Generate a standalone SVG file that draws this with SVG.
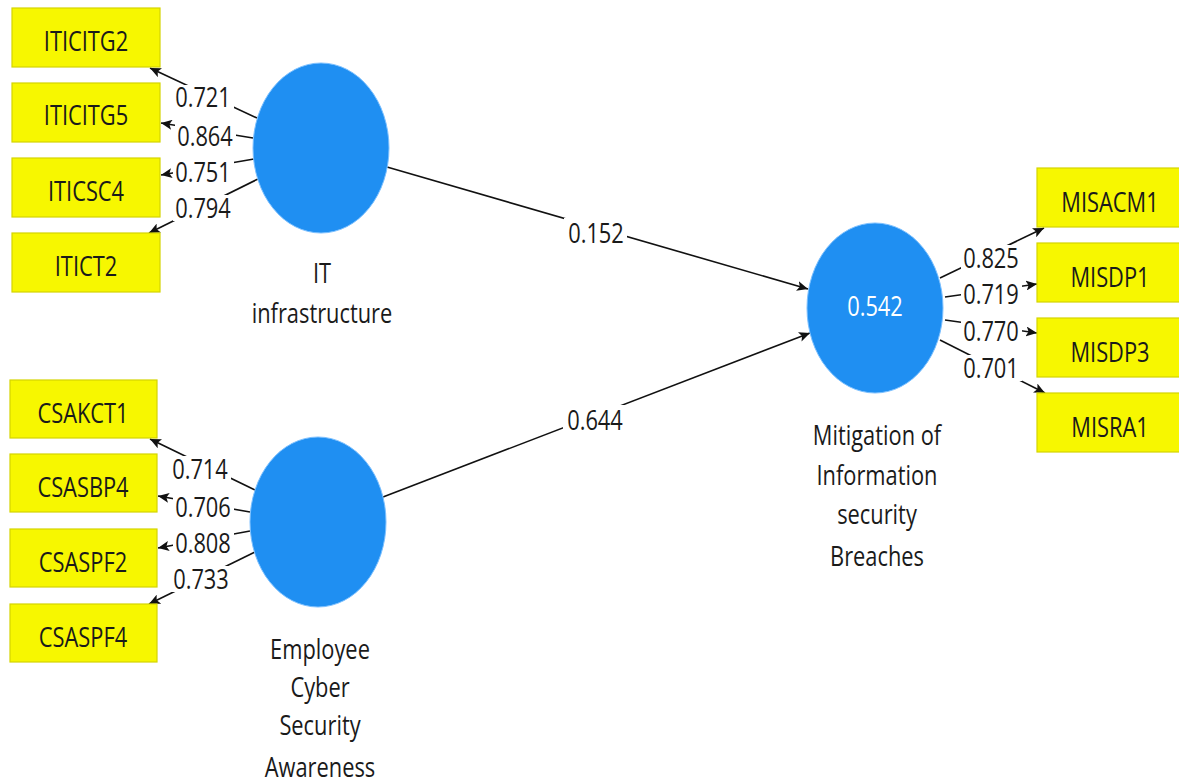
<svg xmlns="http://www.w3.org/2000/svg" width="1179" height="783" viewBox="0 0 1179 783">
<style>
.box{fill:#f7f700;stroke:#d4d400;stroke-width:1.2}
.lv{fill:#1f8ff2;stroke:#7cc0ff;stroke-width:1}
.t{font-family:"Open Sans","Noto Sans",sans-serif;font-size:28px;fill:#1a1a1a;text-anchor:middle}
.w{fill:#ffffff}
.ln{stroke:#111;stroke-width:1.6;fill:none;marker-end:url(#ah)}
.bg{fill:#ffffff}
</style>
<defs>
<marker id="ah" markerUnits="userSpaceOnUse" markerWidth="12" markerHeight="10" refX="11" refY="5" orient="auto">
<path d="M0,0 L11,5 L0,10 L2.5,5 z" fill="#111"/>
</marker>
</defs>
<rect width="1179" height="783" fill="#ffffff"/>

<g id="connectors">
<line class="ln" x1="257" y1="118" x2="150" y2="68"/>
<line class="ln" x1="253" y1="138" x2="161" y2="123"/>
<line class="ln" x1="254" y1="159" x2="161" y2="175"/>
<line class="ln" x1="258" y1="179" x2="149" y2="233"/>
<line class="ln" x1="255" y1="490" x2="150" y2="439"/>
<line class="ln" x1="250" y1="512" x2="158" y2="496"/>
<line class="ln" x1="250" y1="531" x2="158" y2="548"/>
<line class="ln" x1="255" y1="552" x2="149" y2="604"/>
<line class="ln" x1="940" y1="278" x2="1044" y2="228"/>
<line class="ln" x1="945" y1="297" x2="1037" y2="284"/>
<line class="ln" x1="945" y1="320" x2="1037" y2="333"/>
<line class="ln" x1="940" y1="340" x2="1045" y2="393"/>
<line class="ln" x1="387" y1="167" x2="808" y2="289"/>
<line class="ln" x1="383" y1="497" x2="810" y2="333"/>
<rect class="bg" x="173" y="85" width="61" height="26"/>
<rect class="bg" x="175" y="124" width="61" height="26"/>
<rect class="bg" x="173" y="159" width="61" height="26"/>
<rect class="bg" x="173" y="195" width="61" height="26"/>
<rect class="bg" x="170" y="456" width="61" height="26"/>
<rect class="bg" x="173" y="494" width="61" height="26"/>
<rect class="bg" x="173" y="530" width="61" height="26"/>
<rect class="bg" x="171" y="566" width="61" height="26"/>
<rect class="bg" x="961" y="245" width="61" height="26"/>
<rect class="bg" x="961" y="281" width="61" height="26"/>
<rect class="bg" x="961" y="318" width="61" height="26"/>
<rect class="bg" x="961" y="355" width="61" height="26"/>
<rect class="bg" x="564" y="218" width="63" height="28"/>
<rect class="bg" x="563" y="405" width="63" height="28"/>
<text class="t" transform="translate(203,107) scale(0.78,1)">0.721</text>
<text class="t" transform="translate(205,146) scale(0.78,1)">0.864</text>
<text class="t" transform="translate(203,182) scale(0.78,1)">0.751</text>
<text class="t" transform="translate(203,218) scale(0.78,1)">0.794</text>
<text class="t" transform="translate(200,479) scale(0.78,1)">0.714</text>
<text class="t" transform="translate(203,517) scale(0.78,1)">0.706</text>
<text class="t" transform="translate(203,553) scale(0.78,1)">0.808</text>
<text class="t" transform="translate(201,589) scale(0.78,1)">0.733</text>
<text class="t" transform="translate(991,268) scale(0.78,1)">0.825</text>
<text class="t" transform="translate(991,304) scale(0.78,1)">0.719</text>
<text class="t" transform="translate(991,341) scale(0.78,1)">0.770</text>
<text class="t" transform="translate(991,378) scale(0.78,1)">0.701</text>
<text class="t" transform="translate(596,243) scale(0.78,1)">0.152</text>
<text class="t" transform="translate(595,430) scale(0.78,1)">0.644</text>
</g>

<g id="IT_infrastructure">
<ellipse class="lv" cx="321" cy="148" rx="68" ry="85"/>
<text class="t" transform="translate(322,283) scale(0.78,1)">IT</text>
<text class="t" transform="translate(322,323) scale(0.78,1)">infrastructure</text>
</g>
<g id="Employee_Cyber_Security_Awareness">
<ellipse class="lv" cx="318" cy="522" rx="68" ry="85"/>
<text class="t" transform="translate(320,659) scale(0.78,1)">Employee</text>
<text class="t" transform="translate(320,697) scale(0.78,1)">Cyber</text>
<text class="t" transform="translate(320,735) scale(0.78,1)">Security</text>
<text class="t" transform="translate(320,777) scale(0.78,1)">Awareness</text>
</g>
<g id="Mitigation">
<ellipse class="lv" cx="875" cy="308" rx="68" ry="85"/>
<text class="t w" transform="translate(875,316) scale(0.78,1)">0.542</text>
<text class="t" transform="translate(877,445) scale(0.78,1)">Mitigation of</text>
<text class="t" transform="translate(877,485) scale(0.78,1)">Information</text>
<text class="t" transform="translate(877,524) scale(0.78,1)">security</text>
<text class="t" transform="translate(877,566) scale(0.78,1)">Breaches</text>
</g>

<g id="ITICITG2"><rect class="box" x="12" y="8" width="148" height="59"/><text class="t" transform="translate(86,51) scale(0.78,1)">ITICITG2</text></g>
<g id="ITICITG5"><rect class="box" x="12" y="83" width="148" height="59"/><text class="t" transform="translate(86,125) scale(0.78,1)">ITICITG5</text></g>
<g id="ITICSC4"><rect class="box" x="12" y="158" width="148" height="59"/><text class="t" transform="translate(86,201) scale(0.78,1)">ITICSC4</text></g>
<g id="ITICT2"><rect class="box" x="12" y="233" width="148" height="59"/><text class="t" transform="translate(86,276) scale(0.78,1)">ITICT2</text></g>

<g id="CSAKCT1"><rect class="box" x="10" y="380" width="147" height="58"/><text class="t" transform="translate(83,423) scale(0.78,1)">CSAKCT1</text></g>
<g id="CSASBP4"><rect class="box" x="10" y="454" width="147" height="58"/><text class="t" transform="translate(83,497) scale(0.78,1)">CSASBP4</text></g>
<g id="CSASPF2"><rect class="box" x="10" y="529" width="147" height="58"/><text class="t" transform="translate(83,572) scale(0.78,1)">CSASPF2</text></g>
<g id="CSASPF4"><rect class="box" x="10" y="604" width="147" height="58"/><text class="t" transform="translate(83,647) scale(0.78,1)">CSASPF4</text></g>

<g id="MISACM1"><rect class="box" x="1037" y="168" width="148" height="59"/><text class="t" transform="translate(1110,212) scale(0.78,1)">MISACM1</text></g>
<g id="MISDP1"><rect class="box" x="1037" y="243" width="148" height="59"/><text class="t" transform="translate(1110,287) scale(0.78,1)">MISDP1</text></g>
<g id="MISDP3"><rect class="box" x="1037" y="318" width="148" height="59"/><text class="t" transform="translate(1110,362) scale(0.78,1)">MISDP3</text></g>
<g id="MISRA1"><rect class="box" x="1037" y="393" width="148" height="59"/><text class="t" transform="translate(1110,437) scale(0.78,1)">MISRA1</text></g>
</svg>
